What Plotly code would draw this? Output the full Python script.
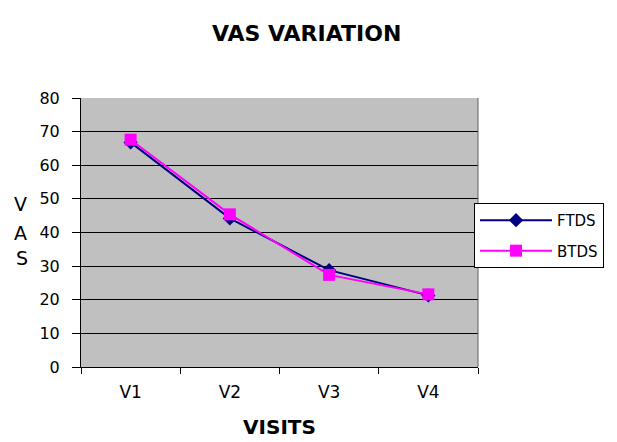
import plotly.graph_objects as go

visits = ["V1", "V2", "V3", "V4"]
ftds = [66.8, 44.2, 28.8, 21.3]
btds = [67.6, 45.4, 27.4, 21.6]
y_ticks = [0, 10, 20, 30, 40, 50, 60, 70, 80]
y_title_letters = ["V", "A", "S"]

font_family = "DejaVu Sans, Liberation Sans, Arial, sans-serif"

fig = go.Figure()
fig.add_trace(go.Scatter(
    x=visits, y=ftds, name="FTDS", mode="lines+markers", legendgroup="f",
    line=dict(color="#000080", width=2),
    marker=dict(symbol="diamond", size=11, color="#000080"),
))
fig.add_trace(go.Scatter(
    x=visits, y=btds, name="BTDS", mode="lines+markers", legendgroup="b",
    line=dict(color="#FF00FF", width=2),
    marker=dict(symbol="square", size=12, color="#FF00FF"),
))

fig.update_layout(
    width=617, height=442,
    paper_bgcolor="white",
    plot_bgcolor="#C0C0C0",
    margin=dict(l=81, r=139, t=98, b=75, autoexpand=False),
    title=dict(text="<b>VAS VARIATION</b>", x=0.497, xanchor="center",
               y=1 - 33 / 442, yanchor="middle",
               font=dict(family=font_family, size=22, color="black")),
    font=dict(family=font_family, size=15, color="black"),
    legend=dict(x=0.99, xanchor="left", y=0.61, yanchor="top",
                bgcolor="white", bordercolor="black", borderwidth=1,
                font=dict(family=font_family, size=15, color="black"),
                itemwidth=72, tracegroupgap=8, traceorder="grouped"),
    showlegend=True,
)
fig.update_xaxes(
    type="category",
    range=[-0.5, 3.5],
    tickson="boundaries",
    ticks="outside", ticklen=6, tickcolor="black",
    ticklabelstandoff=10,
    showline=True, linecolor="black", linewidth=1,
    showgrid=False,
    tickfont=dict(family=font_family, size=17),
    title=dict(text="<b>VISITS</b>",
               font=dict(family=font_family, size=20), standoff=18),
)
fig.update_yaxes(
    range=[0, 80], tickvals=y_ticks,
    ticks="outside", ticklen=8, tickcolor="black",
    ticklabelstandoff=9,
    showline=True, linecolor="black", linewidth=1,
    showgrid=True, gridcolor="black", gridwidth=1,
    zeroline=False,
    tickfont=dict(family=font_family, size=16),
    title=None,
)
# right border of plot area
fig.add_shape(type="line", xref="paper", yref="paper", x0=1, x1=1, y0=0, y1=1,
              line=dict(color="#606060", width=1))
letter_y = [0.606, 0.498, 0.405]
letter_x = [-0.152, -0.152, -0.148]
for letter, lx, ly in zip(y_title_letters, letter_x, letter_y):
    fig.add_annotation(text=letter, xref="paper", yref="paper",
                       x=lx, y=ly, xanchor="center", yanchor="middle",
                       showarrow=False,
                       font=dict(family=font_family, size=19, color="black"))

fig.write_html("out.html", config={"displayModeBar": False},
               post_script="document.body.style.margin='0';document.body.style.padding='0';")
